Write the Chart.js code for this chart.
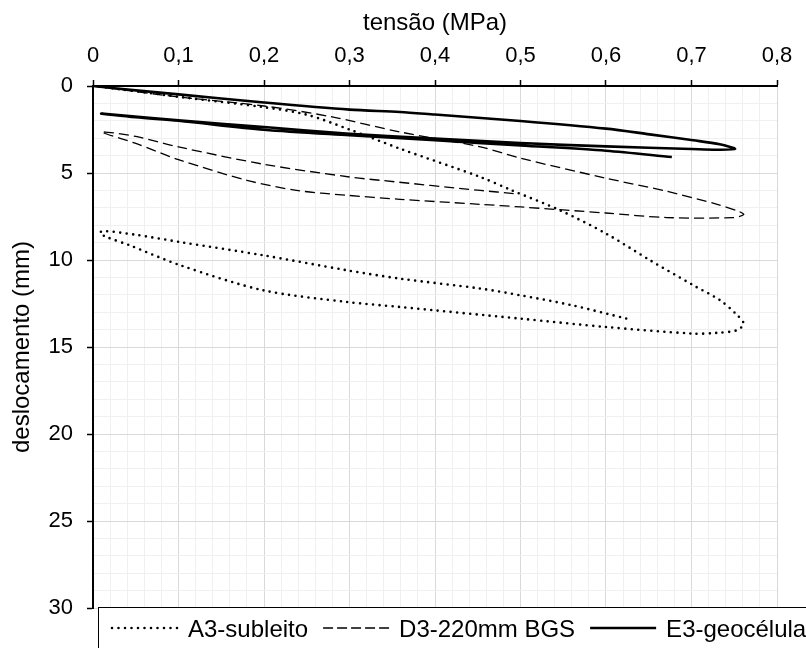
<!DOCTYPE html>
<html>
<head>
<meta charset="utf-8">
<script src="https://cdn.jsdelivr.net/npm/chart.js@4.4.1/dist/chart.umd.min.js"></script>
<style>
    html, body { margin: 0; padding: 0; background: #fff; }
</style>
</head>
<body>
<canvas id="chart-line" width="806" height="648"></canvas>
<script>
// tick labels
const xTickLabels = ['0', '0,1', '0,2', '0,3', '0,4', '0,5', '0,6', '0,7', '0,8']
const yTickLabels = ['0', '5', '10', '15', '20', '25', '30']

const seriesNames = ['A3-subleito', 'D3-220mm BGS', 'E3-geocélula']

// A3-subleito: tensão (MPa) / deslocamento (mm)
const a3Tensao = [0, 0.05, 0.1, 0.2, 0.25, 0.3, 0.359, 0.453, 0.49, 0.546, 0.6, 0.651, 0.702, 0.733, 0.752, 0.761, 0.753, 0.729, 0.702, 0.6, 0.5, 0.359, 0.297, 0.199, 0.102, 0.043, 0.016, 0.008, 0.012, 0.05, 0.102, 0.199, 0.297, 0.359, 0.453, 0.5, 0.56, 0.624]
const a3Desloc = [0, 0.3, 0.62, 1.22, 1.65, 2.5, 3.6, 5.23, 6.0, 7.14, 8.48, 10.0, 11.45, 12.3, 13.1, 13.66, 14.04, 14.19, 14.23, 13.85, 13.37, 12.7, 12.41, 11.74, 10.3, 9.16, 8.68, 8.45, 8.33, 8.55, 8.97, 9.73, 10.59, 11.07, 11.64, 12.03, 12.6, 13.37]

// D3-220mm BGS
const d3Tensao = [0, 0.1, 0.2, 0.277, 0.359, 0.453, 0.5, 0.6, 0.671, 0.73, 0.755, 0.761, 0.749, 0.671, 0.6, 0.5, 0.453, 0.359, 0.297, 0.238, 0.18, 0.1, 0.05, 0.01, 0.05, 0.1, 0.2, 0.3, 0.336, 0.453, 0.492]
const d3Desloc = [0, 0.63, 1.15, 1.75, 2.64, 3.5, 4.15, 5.3, 6.05, 6.8, 7.2, 7.39, 7.56, 7.56, 7.3, 6.95, 6.8, 6.51, 6.28, 6.0, 5.42, 4.23, 3.3, 2.64, 2.9, 3.5, 4.5, 5.23, 5.42, 6.0, 6.18]

// E3-geocélula
const e3Tensao = [0, 0.05, 0.1, 0.2, 0.3, 0.359, 0.4, 0.5, 0.6, 0.651, 0.702, 0.733, 0.751, 0.73, 0.7, 0.6, 0.5, 0.4, 0.3, 0.2, 0.1, 0.01, 0.05, 0.1, 0.2, 0.3, 0.4, 0.5, 0.6, 0.677]
const e3Desloc = [0, 0.25, 0.48, 0.95, 1.36, 1.49, 1.64, 2.01, 2.45, 2.78, 3.12, 3.35, 3.62, 3.66, 3.62, 3.47, 3.28, 3.02, 2.74, 2.36, 1.97, 1.59, 1.8, 2.0, 2.51, 2.83, 3.12, 3.42, 3.72, 4.08]

function toPoints(xs, ys) {
    return xs.map((x, i) => ({ x: x, y: ys[i] }))
}

function isMajorX(v) {
    return Math.round(v * 50) % 5 === 0
}

function isMajorY(v) {
    return Math.round(v) % 5 === 0
}

const legendItems = [
    { dash: [0, 6.5], width: 2.6, cap: 'round' },
    { dash: [10, 4], width: 1.3, cap: 'butt' },
    { dash: [], width: 2.6, cap: 'butt' }
]

// legend in a framed box under the plot, like the original sheet
const legendBox = {
    id: 'legendBox',
    afterDraw(chart) {
        let c = chart.ctx
        c.save()
        c.fillStyle = '#fff'
        c.fillRect(98, 607, 730, 60)
        c.strokeStyle = '#000'
        c.lineWidth = 1
        c.strokeRect(98.5, 607.5, 730, 60)

        c.font = '24px "Liberation Sans", Arial, sans-serif'
        c.fillStyle = '#000'
        c.textBaseline = 'alphabetic'
        let x = 112
        const yLine = 628
        legendItems.forEach((item, i) => {
            c.beginPath()
            c.setLineDash(item.dash)
            c.lineCap = item.cap
            c.lineWidth = item.width
            c.moveTo(x, yLine)
            c.lineTo(x + 66, yLine)
            c.stroke()
            c.setLineDash([])
            x += 66 + 10
            c.fillText(seriesNames[i], x, 637)
            x += c.measureText(seriesNames[i]).width + 15
        })
        c.restore()
    }
}

let line = document.getElementById('chart-line')

new Chart(line, {
    type: 'scatter',
    data: {
        datasets: [
            {
                label: seriesNames[0],
                data: toPoints(a3Tensao, a3Desloc),
                showLine: true,
                borderColor: '#000',
                borderWidth: 2.6,
                borderDash: [0, 6.5],
                borderCapStyle: 'round',
                pointRadius: 0,
                tension: 0.3
            },
            {
                label: seriesNames[1],
                data: toPoints(d3Tensao, d3Desloc),
                showLine: true,
                borderColor: '#000',
                borderWidth: 1.3,
                borderDash: [10, 5],
                pointRadius: 0,
                tension: 0.3
            },
            {
                label: seriesNames[2],
                data: toPoints(e3Tensao, e3Desloc),
                showLine: true,
                borderColor: '#000',
                borderWidth: 2.6,
                pointRadius: 0,
                tension: 0.3
            }
        ]
    },
    options: {
        responsive: false,
        animation: false,
        layout: {
            padding: { left: 0, top: 0, right: 29, bottom: 40 }
        },
        scales: {
            x: {
                type: 'linear',
                position: 'top',
                min: 0,
                max: 0.8,
                afterFit: (scale) => { scale.height = 86 },
                ticks: {
                    stepSize: 0.02,
                    autoSkip: false,
                    maxRotation: 0,
                    padding: 11,
                    color: '#000',
                    font: { family: '"Liberation Sans", Arial, sans-serif', size: 22 },
                    callback: (v) => isMajorX(v) ? xTickLabels[Math.round(v * 10)] : ''
                },
                border: {
                    display: true,
                    color: '#000',
                    width: 2
                },
                grid: {
                    display: true,
                    color: (ctx) => ctx.tick && ctx.tick.value === 0 ? 'rgba(0,0,0,0)' : (isMajorX(ctx.tick.value) ? '#d9d9d9' : '#f0f0f0'),
                    tickColor: (ctx) => isMajorX(ctx.tick.value) ? '#000' : 'rgba(0,0,0,0)',
                    tickLength: 6,
                    tickWidth: 1.5,
                    lineWidth: 1
                },
                title: {
                    display: true,
                    text: 'tensão (MPa)',
                    color: '#000',
                    font: { family: '"Liberation Sans", Arial, sans-serif', size: 24 },
                    padding: { top: 9, bottom: 0 }
                }
            },
            y: {
                type: 'linear',
                reverse: true,
                min: 0,
                max: 30,
                afterFit: (scale) => { scale.width = 93 },
                ticks: {
                    stepSize: 1,
                    autoSkip: false,
                    padding: 14,
                    color: '#000',
                    font: { family: '"Liberation Sans", Arial, sans-serif', size: 22 },
                    callback: (v) => isMajorY(v) ? yTickLabels[Math.round(v / 5)] : ''
                },
                border: {
                    display: true,
                    color: '#000',
                    width: 2
                },
                grid: {
                    display: true,
                    color: (ctx) => ctx.tick && ctx.tick.value === 0 ? 'rgba(0,0,0,0)' : (isMajorY(ctx.tick.value) ? '#d9d9d9' : '#f0f0f0'),
                    tickColor: (ctx) => isMajorY(ctx.tick.value) ? '#000' : 'rgba(0,0,0,0)',
                    tickLength: 6,
                    tickWidth: 1.5,
                    lineWidth: 1
                },
                title: {
                    display: true,
                    text: 'deslocamento (mm)',
                    color: '#000',
                    font: { family: '"Liberation Sans", Arial, sans-serif', size: 24 },
                    padding: { top: 8, bottom: 0 }
                }
            }
        },
        plugins: {
            title: { display: false },
            legend: { display: false },
            tooltip: { enabled: false }
        }
    },
    plugins: [legendBox]
})
</script>
</body>
</html>
